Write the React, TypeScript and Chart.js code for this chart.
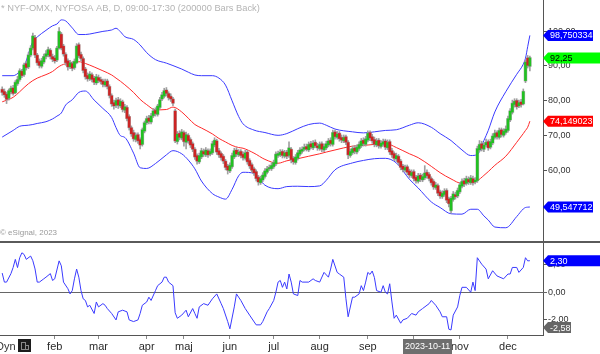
import React, { useEffect, useRef } from "react";
import { Chart, registerables } from "chart.js";
Chart.register(...registerables);

// ---------- price data (daily OHLC) ----------
const opens = [
  83.2, 82.6, 81.8, 80.8, 82.6, 83.6, 82.4, 85.0, 86.2, 88.4,
  87.6, 90.6, 89.8, 93.2, 95.2, 98.0, 93.0, 91.2, 90.0, 91.2,
  92.8, 93.2, 94.4, 92.6, 92.2, 91.8, 95.2, 99.0, 95.6, 93.2,
  91.4, 89.8, 90.6, 89.6, 91.0, 96.0, 93.2, 92.0, 89.0, 87.2,
  86.4, 87.4, 86.4, 85.2, 86.6, 86.0, 85.6, 84.6, 85.6, 84.0,
  81.4, 79.4, 78.8, 80.2, 78.6, 79.6, 77.4, 78.0, 75.4, 72.2,
  70.8, 69.0, 70.2, 68.8, 67.6, 71.4, 73.8, 75.0, 74.0, 75.8,
  77.2, 76.2, 78.2, 80.6, 81.4, 83.0, 82.0, 81.2, 80.4, 77.0,
  68.4, 70.6, 69.4, 70.8, 68.2, 70.0, 68.8, 67.6, 66.0, 64.2,
  62.6, 64.0, 65.4, 64.6, 65.6, 64.8, 65.2, 67.4, 68.4, 65.6,
  64.8, 64.0, 62.6, 61.2, 60.0, 61.2, 64.0, 65.8, 64.6, 65.4,
  64.6, 63.6, 65.2, 62.8, 61.6, 60.4, 59.6, 58.0, 56.6, 57.4,
  58.4, 59.6, 60.6, 60.6, 61.2, 62.0, 64.4, 64.6, 65.4, 64.2,
  65.2, 64.4, 66.0, 63.4, 62.4, 63.6, 64.8, 65.6, 66.2, 66.8,
  66.0, 67.6, 66.6, 68.0, 67.0, 66.4, 67.6, 66.0, 66.6, 67.4,
  68.6, 67.6, 71.0, 69.6, 70.6, 69.4, 68.6, 69.6, 68.0, 64.4,
  65.2, 66.4, 65.4, 66.4, 67.2, 68.6, 67.6, 68.8, 70.8, 69.6,
  68.8, 67.4, 68.6, 67.0, 67.6, 68.4, 66.6, 68.2, 65.6, 64.8,
  63.4, 64.0, 62.6, 61.2, 60.2, 61.0, 59.8, 58.6, 59.6, 58.0,
  57.0, 58.6, 57.4, 58.0, 59.4, 58.8, 57.6, 56.8, 55.2, 55.6,
  53.8, 52.6, 53.2, 54.2, 51.8, 48.6, 51.8, 53.0, 52.8, 54.0,
  55.6, 57.0, 56.4, 57.4, 56.6, 57.6, 56.8, 57.2, 66.0, 67.6,
  66.2, 67.4, 68.2, 66.8, 68.0, 69.6, 70.8, 69.6, 71.6, 70.2,
  71.0, 71.6, 74.6, 76.8, 79.0, 80.0, 78.6, 79.6, 79.2, 85.8,
  92.2, 90.0,
];
const highs = [
  84.0, 83.4, 82.4, 83.4, 84.2, 84.4, 85.8, 87.0, 89.2, 89.0,
  90.8, 91.4, 93.8, 95.8, 99.4, 98.8, 93.6, 92.0, 92.2, 93.4,
  94.4, 95.4, 95.0, 93.4, 93.0, 95.6, 101.0, 99.6, 96.2, 93.8,
  92.0, 91.6, 91.2, 92.0, 96.4, 96.6, 94.0, 92.6, 89.6, 88.0,
  88.4, 88.0, 87.0, 87.6, 87.4, 86.8, 86.2, 86.2, 86.2, 84.6,
  82.0, 80.2, 80.8, 81.0, 80.6, 80.2, 79.0, 78.6, 76.0, 72.8,
  71.6, 70.8, 70.8, 69.4, 72.2, 74.2, 75.6, 75.8, 76.4, 77.8,
  78.0, 79.0, 81.0, 82.4, 83.6, 83.8, 82.6, 82.0, 81.0, 77.6,
  71.2, 71.4, 71.8, 71.4, 71.0, 70.6, 69.4, 68.2, 66.6, 64.8,
  65.0, 66.4, 66.2, 66.6, 66.2, 66.2, 68.4, 69.4, 69.0, 66.4,
  65.4, 64.6, 63.2, 61.8, 62.2, 65.0, 66.4, 66.6, 66.0, 66.0,
  65.4, 65.8, 65.8, 63.4, 62.2, 61.0, 60.2, 58.6, 58.4, 59.4,
  60.6, 61.2, 61.6, 62.2, 63.0, 65.4, 65.6, 66.0, 66.0, 65.8,
  65.8, 68.2, 66.6, 64.0, 64.6, 65.8, 66.6, 66.8, 67.6, 67.6,
  68.2, 68.4, 68.6, 68.8, 67.8, 68.2, 68.2, 67.6, 68.4, 69.2,
  69.4, 71.6, 71.6, 71.2, 71.2, 70.2, 70.2, 70.2, 68.6, 66.2,
  67.0, 67.2, 67.4, 68.2, 69.2, 69.4, 69.8, 71.4, 71.4, 70.4,
  69.6, 69.2, 69.2, 68.6, 69.0, 69.0, 68.8, 68.8, 66.4, 65.4,
  65.0, 64.6, 63.2, 61.8, 61.6, 61.6, 60.4, 60.2, 60.2, 58.6,
  59.2, 59.2, 59.0, 61.4, 60.2, 59.4, 58.2, 57.4, 56.6, 56.2,
  54.4, 54.2, 54.8, 54.8, 52.4, 52.6, 54.0, 53.8, 55.0, 56.6,
  57.6, 57.8, 58.4, 58.2, 58.6, 58.4, 58.0, 67.0, 68.6, 68.4,
  68.0, 69.0, 68.8, 69.0, 70.6, 71.6, 71.4, 72.2, 72.2, 72.0,
  72.8, 75.6, 77.8, 80.2, 80.6, 80.6, 80.2, 80.4, 83.4, 91.6,
  93.0, 92.8,
];
const lows = [
  81.6, 81.0, 79.2, 80.2, 82.0, 81.6, 82.0, 84.4, 85.6, 86.6,
  87.0, 88.8, 89.2, 92.6, 94.6, 92.4, 90.2, 89.4, 89.4, 90.6,
  92.0, 92.6, 92.0, 91.2, 90.8, 91.2, 94.8, 94.6, 92.8, 90.2,
  88.8, 89.2, 88.6, 89.0, 90.6, 92.4, 91.4, 88.0, 86.2, 85.6,
  85.8, 85.4, 84.6, 84.6, 85.2, 84.8, 84.0, 84.0, 83.4, 80.8,
  78.4, 77.6, 78.0, 77.8, 78.0, 76.8, 76.6, 74.2, 71.6, 69.8,
  68.4, 68.2, 67.8, 66.2, 67.0, 70.8, 73.2, 73.4, 73.4, 75.2,
  75.6, 75.6, 77.6, 80.0, 80.8, 81.4, 80.2, 79.8, 78.6, 68.0,
  67.6, 68.8, 68.8, 67.0, 66.2, 67.8, 66.6, 65.4, 63.2, 61.8,
  62.0, 63.4, 64.0, 64.0, 63.8, 64.2, 64.6, 66.8, 64.6, 63.8,
  63.0, 62.0, 60.2, 59.0, 59.4, 60.6, 63.4, 64.0, 64.0, 63.6,
  63.0, 63.0, 61.8, 60.6, 59.4, 58.6, 57.0, 55.8, 56.0, 56.8,
  57.8, 59.0, 60.0, 60.0, 60.6, 61.4, 63.8, 64.0, 63.6, 63.6,
  63.4, 63.8, 62.2, 61.8, 61.8, 63.0, 64.2, 65.0, 65.6, 65.6,
  65.4, 66.2, 66.0, 66.6, 65.8, 65.8, 65.4, 65.4, 66.0, 66.8,
  67.0, 67.0, 69.0, 69.0, 68.4, 68.0, 68.0, 67.4, 63.4, 63.8,
  64.6, 64.8, 64.8, 65.8, 66.6, 67.0, 67.0, 68.2, 68.6, 67.8,
  66.8, 66.8, 66.4, 66.4, 67.0, 66.0, 66.0, 64.6, 63.8, 62.8,
  62.6, 61.6, 60.2, 59.6, 59.6, 58.8, 58.0, 58.0, 57.0, 56.4,
  56.4, 56.8, 56.8, 57.4, 57.8, 57.0, 55.8, 54.6, 54.6, 52.8,
  52.0, 52.0, 52.6, 50.8, 49.6, 47.8, 51.2, 51.8, 52.2, 53.4,
  55.0, 55.4, 55.8, 56.0, 56.0, 55.8, 56.2, 56.6, 65.4, 65.6,
  65.4, 66.8, 65.8, 66.2, 67.4, 69.0, 69.0, 69.0, 69.6, 69.6,
  70.4, 71.0, 74.0, 76.2, 78.2, 77.6, 78.0, 78.2, 78.8, 85.2,
  89.4, 88.6,
];
const closes = [
  82.5, 81.8, 80.5, 82.8, 83.5, 82.2, 85.2, 86.0, 88.5, 87.3,
  90.2, 89.6, 93.0, 95.0, 98.5, 93.2, 91.0, 90.2, 91.4, 92.6,
  93.4, 94.6, 92.8, 92.0, 91.5, 95.0, 99.8, 95.2, 93.5, 91.0,
  89.8, 90.8, 89.4, 91.2, 95.6, 93.0, 92.2, 88.8, 87.0, 86.4,
  87.6, 86.2, 85.4, 86.8, 85.9, 85.6, 84.8, 85.4, 84.2, 81.6,
  79.2, 78.6, 80.0, 78.8, 79.8, 77.6, 78.2, 75.0, 72.4, 70.6,
  69.2, 70.0, 68.6, 67.4, 71.6, 73.6, 74.8, 74.2, 75.6, 77.0,
  76.4, 78.4, 80.2, 81.6, 82.8, 82.2, 81.0, 80.6, 79.4, 68.6,
  70.4, 69.6, 71.0, 68.4, 70.2, 68.6, 67.4, 66.2, 64.0, 62.8,
  64.2, 65.6, 64.8, 65.8, 64.6, 65.4, 67.6, 68.6, 65.4, 64.6,
  63.8, 62.8, 61.0, 60.2, 61.4, 64.2, 65.6, 64.8, 65.2, 64.4,
  63.8, 65.0, 62.6, 61.4, 60.2, 59.4, 57.8, 56.8, 57.6, 58.6,
  59.8, 60.4, 60.8, 61.4, 62.2, 64.6, 64.8, 65.2, 64.4, 65.0,
  64.2, 66.4, 63.2, 62.6, 63.8, 65.0, 65.8, 66.0, 66.6, 66.2,
  67.4, 66.8, 67.8, 67.2, 66.6, 67.4, 66.2, 66.8, 67.6, 68.4,
  67.8, 70.8, 69.8, 70.4, 69.2, 68.8, 69.4, 68.2, 64.6, 65.4,
  66.2, 65.6, 66.6, 67.4, 68.4, 67.8, 69.0, 70.6, 69.4, 68.6,
  67.6, 68.4, 67.2, 67.8, 68.2, 66.8, 68.0, 65.4, 64.6, 63.6,
  64.2, 62.4, 61.0, 60.4, 60.8, 59.6, 58.8, 59.4, 57.8, 57.2,
  58.4, 57.6, 58.2, 59.2, 58.6, 57.8, 56.6, 55.4, 55.8, 53.6,
  52.8, 53.4, 54.0, 51.6, 50.6, 52.0, 53.2, 52.6, 54.2, 55.8,
  56.8, 56.2, 57.6, 56.8, 57.8, 56.6, 57.2, 66.2, 67.4, 66.4,
  67.2, 68.0, 66.6, 68.2, 69.8, 70.6, 69.8, 71.4, 70.4, 71.2,
  71.8, 74.8, 77.0, 79.2, 79.8, 78.4, 79.4, 79.0, 82.6, 91.0,
  90.2, 92.25,
];

// ---------- Bollinger bands (read at these bar indices) ----------
const bandIdx = [
  0, 5, 8, 10, 12, 14, 16, 20, 23, 25, 27, 29, 32, 35, 38, 42, 46, 50, 52, 54,
  56, 60, 63, 66, 70, 75, 78, 82, 85, 88, 91, 96, 99, 102, 105, 108, 110, 115, 120, 126,
  130, 135, 140, 145, 148, 152, 160, 165, 170, 175, 180, 186, 190, 196, 200, 205, 210, 214, 217, 220,
  222, 225, 230, 235, 238, 239, 240, 241,
];
const upperBand = [
  87.2, 87.2, 88.3, 89.6, 93.5, 97.0, 98.3, 100.2, 101.5, 102.0, 103.2, 102.9, 100.9, 99.0, 99.0, 99.4, 99.9, 100.3, 100.8, 99.8,
  98.4, 97.6, 96.0, 93.8, 91.8, 90.8, 90.1, 89.1, 88.2, 87.4, 87.2, 87.2, 86.5, 84.5, 80.0, 75.5, 73.4, 71.6, 70.9, 70.1,
  70.6, 72.0, 73.2, 73.6, 73.0, 71.9, 71.1, 70.8, 71.1, 71.5, 71.7, 73.0, 73.7, 72.4, 70.6, 68.6, 65.9, 64.3, 64.6, 68.6,
  71.5, 76.8, 82.6, 87.6, 90.5, 92.2, 95.5, 98.750334,
];
const midBand = [
  79.7, 81.0, 82.6, 83.8, 84.9, 85.8, 86.5, 87.5, 88.4, 89.4, 90.2, 90.6, 91.0, 91.2, 90.7, 89.7, 88.6, 87.4, 86.5, 85.6,
  84.6, 82.4, 80.4, 78.9, 77.4, 77.5, 78.2, 76.8, 75.0, 73.2, 72.2, 70.5, 69.2, 68.2, 67.2, 66.6, 66.4, 65.0, 63.2, 62.1,
  62.8, 63.4, 64.1, 64.8, 65.3, 65.9, 67.0, 67.2, 67.5, 67.8, 66.6, 64.8, 63.7, 61.2, 59.4, 57.6, 56.3, 56.7, 57.1, 58.6,
  59.7, 61.5, 64.1, 68.1, 70.6, 71.5, 72.4, 74.149023,
];
const lowerBand = [
  69.6, 71.5, 72.7, 72.9, 73.0, 73.2, 73.5, 74.0, 74.8, 75.6, 76.5, 78.8, 80.3, 82.4, 82.8, 80.2, 77.8, 75.2, 72.3, 70.0,
  69.5, 65.0, 60.8, 60.6, 62.0, 64.5, 65.7, 64.8, 63.0, 60.5, 57.0, 53.4, 52.4, 51.8, 54.6, 58.5, 59.5, 59.2, 55.8, 54.8,
  55.4, 55.5, 55.4, 55.6, 57.2, 60.2, 62.2, 62.9, 63.4, 63.5, 62.2, 57.5, 55.0, 51.0, 49.4, 47.6, 47.5, 48.9, 48.9, 47.0,
  45.8, 43.8, 43.6, 46.8, 49.0, 49.4, 49.5, 49.547712,
];

// ---------- oscillator (lower panel) ----------
const oscIdx = [
  0, 1, 2, 4, 5, 6, 7, 8, 9, 10, 11, 13, 14, 15, 16, 17, 19, 20, 22, 23,
  24, 26, 27, 28, 30, 31, 32, 33, 34, 35, 36, 37, 38, 39, 40, 42, 43, 44, 46, 47,
  48, 50, 52, 53, 55, 57, 58, 60, 62, 63, 64, 66, 67, 68, 70, 71, 73, 74, 75, 76,
  78, 79, 80, 82, 84, 85, 87, 88, 89, 90, 92, 94, 95, 96, 98, 100, 101, 103, 104, 106,
  107, 109, 111, 113, 116, 118, 119, 121, 122, 124, 125, 126, 127, 128, 129, 130, 131, 132, 133, 135,
  136, 137, 140, 142, 143, 145, 147, 149, 150, 151, 153, 154, 156, 157, 158, 160, 161, 163, 164, 165,
  166, 167, 168, 169, 170, 171, 173, 174, 175, 176, 177, 178, 179, 180, 182, 183, 185, 187, 189, 190,
  192, 195, 196, 198, 200, 201, 203, 204, 205, 206, 208, 209, 210, 212, 214, 215, 216, 217, 219, 221,
  222, 224, 226, 229, 231, 232, 233, 235, 236, 238, 239, 240, 241,
];
const oscVals = [
  1.4, 0.74, 0.74, 1.36, 1.81, 2.4, 1.8, 2.52, 2.88, 2.76, 2.4, 2.64, 2.3, 1.7, 0.74, 0.74, 0.98, 1.1, 1.36, 0.86,
  0.98, 2.29, 1.93, 0.74, 0.26, -0.12, 0.12, 0.98, 1.69, 1.1, 0.12, -0.48, -0.6, -1.07, -0.95, -1.55, -0.71, -1.07, -0.83, -0.95,
  -1.19, -1.55, -2.02, -1.43, -1.31, -1.43, -2.02, -2.14, -2.02, -1.55, -0.95, -0.71, -0.36, -0.6, 0.12, 0.48, 0.74, 1.1, 1.1, 0.74,
  0.48, -1.5, -1.9, -1.67, -1.31, -1.79, -1.19, -1.55, -1.9, -1.07, -0.83, -0.95, -0.71, -0.48, -0.12, -0.83, -1.19, -2.14, -2.67, -1.07,
  -0.12, -0.6, -1.19, -1.67, -2.38, -2.38, -2.14, -1.43, -1.19, -0.6, 0.0, 0.74, 0.86, 0.36, 0.74, 0.24, 1.33, 0.74, -0.12, -0.24,
  0.86, 0.74, 0.74, 0.98, 0.86, 0.74, 1.45, 1.1, 1.69, 2.4, 1.45, 1.33, 1.1, -0.48, -1.79, -0.36, -0.36, -0.12, 0.48, 0.12,
  0.74, 1.45, 1.3, 1.55, 1.07, 0.12, 0.0, 0.48, 0.0, -0.12, 0.62, -0.71, -1.9, -1.67, -2.26, -2.02, -1.9, -1.55, -1.67, -1.43,
  -1.19, -0.83, -0.6, -0.95, -1.43, -1.79, -1.79, -2.7, -2.75, -1.67, -1.07, -0.24, 0.36, 0.36, 0.0, 0.74, 0.12, 2.52, 2.05, 1.69,
  0.98, 1.57, 1.19, 0.98, 1.33, 1.33, 1.81, 1.81, 1.45, 1.81, 2.52, 2.29, 2.3,
];
const oscMarker = -2.58;

// ---------- axes ----------
const monthIdx = [24, 44, 66, 83, 104, 124, 145, 167, 188, 209, 231];
const monthLabels = ["feb", "mar", "apr", "maj", "jun", "jul", "aug", "sep", "okt", "nov", "dec"];
const priceTicks = [60, 70, 80, 90, 100];
const oscTicks = [-2, 0, 2];

const TITLE = "* NYF-OMX, NYFOSA AB, D, 09:00-17:30 (200000 Bars Back)";
const COPY = "\u00a9 eSignal, 2023";
const DATE_LABEL = "2023-10-11";
const FONT = "Arial, 'Liberation Sans', Helvetica, sans-serif";
const AXIS_W = 57;

const fmt = (v: number, d = 2) => v.toFixed(d).replace(".", ",");

function drawTag(ctx: CanvasRenderingContext2D, x0: number, y: number, right: number, text: string, bg: string, fg: string) {
  ctx.save();
  ctx.fillStyle = bg;
  ctx.beginPath();
  ctx.moveTo(x0, y);
  ctx.lineTo(x0 + 5, y - 5.5);
  ctx.lineTo(right, y - 5.5);
  ctx.lineTo(right, y + 5.5);
  ctx.lineTo(x0 + 5, y + 5.5);
  ctx.closePath();
  ctx.fill();
  ctx.fillStyle = fg;
  ctx.font = `9px ${FONT}`;
  ctx.textAlign = "left";
  ctx.textBaseline = "middle";
  ctx.fillText(text, x0 + 7, y + 0.5);
  ctx.restore();
}

export default function App() {
  const topRef = useRef<HTMLCanvasElement>(null);
  const botRef = useRef<HTMLCanvasElement>(null);

  useEffect(() => {
    const n = Math.min(opens.length, highs.length, lows.length, closes.length);
    const idx = Array.from({ length: n }, (_, i) => i);
    const isUp = idx.map((i) => closes[i] >= opens[i]);
    const last = n - 1;
    const bodyLo = idx.map((i) => Math.min(opens[i], closes[i]));
    const bodyHi = idx.map((i) => Math.max(opens[i], closes[i]));

    const yAfterFit = (s: any) => {
      s.width = AXIS_W;
      s.paddingTop = 0;
      s.paddingBottom = 0;
    };

    const topPlugin = {
      id: "topDecor",
      afterDraw(chart: any) {
        const { ctx } = chart;
        const ys = chart.scales.y;
        const x0 = chart.chartArea.right;
        ctx.save();
        ctx.font = `9.3px ${FONT}`;
        ctx.textBaseline = "middle";
        ctx.textAlign = "left";
        ctx.fillStyle = "#b4b4b4";
        ctx.fillText(TITLE, 1, 8);
        ctx.font = `8px ${FONT}`;
        ctx.fillStyle = "#9a9a9a";
        ctx.fillText(COPY, 0, 233);
        ctx.restore();
        const ku = upperBand.length - 1;
        drawTag(ctx, x0, ys.getPixelForValue(upperBand[ku]), 593, fmt(upperBand[ku], 6), "#0000ff", "#ffffff");
        drawTag(ctx, x0, ys.getPixelForValue(closes[last]), 600, fmt(closes[last], 2), "#00ff00", "#000000");
        drawTag(ctx, x0, ys.getPixelForValue(midBand[ku]), 593, fmt(midBand[ku], 6), "#ff0000", "#ffffff");
        drawTag(ctx, x0, ys.getPixelForValue(lowerBand[ku]), 593, fmt(lowerBand[ku], 6), "#0000ff", "#ffffff");
      },
    };

    const botPlugin = {
      id: "botDecor",
      beforeDatasetsDraw(chart: any) {
        const { ctx } = chart;
        const y0 = Math.round(chart.scales.y.getPixelForValue(0)) + 0.5;
        ctx.save();
        ctx.strokeStyle = "#666666";
        ctx.lineWidth = 1;
        ctx.beginPath();
        ctx.moveTo(0, y0);
        ctx.lineTo(chart.chartArea.right + 4, y0);
        ctx.stroke();
        ctx.restore();
      },
      afterDraw(chart: any) {
        const { ctx } = chart;
        const ys = chart.scales.y;
        const x0 = chart.chartArea.right;
        ctx.save();
        ctx.fillStyle = "#5a5a5a";
        ctx.fillRect(0, 0, 600, 2);
        ctx.font = `11px ${FONT}`;
        ctx.textBaseline = "middle";
        ctx.textAlign = "left";
        ctx.fillStyle = "#333333";
        ctx.fillText("Dyn", -4, 106);
        ctx.fillStyle = "#1c1c1c";
        ctx.fillRect(18, 98, 13, 13);
        ctx.strokeStyle = "#8a8a8a";
        ctx.lineWidth = 1;
        ctx.strokeRect(21.5, 101.5, 4, 7);
        ctx.strokeRect(25.5, 104.5, 3, 4);
        ctx.fillStyle = "#6e6e6e";
        ctx.fillRect(403, 98, 49, 15);
        ctx.fillStyle = "#ffffff";
        ctx.font = `9px ${FONT}`;
        ctx.fillText(DATE_LABEL, 405, 106);
        ctx.restore();
        drawTag(ctx, x0, ys.getPixelForValue(oscVals[oscVals.length - 1]), 600, fmt(oscVals[oscVals.length - 1], 2), "#0000ff", "#ffffff");
        drawTag(ctx, x0, ys.getPixelForValue(oscMarker), 571, fmt(oscMarker, 2), "#666666", "#ffffff");
      },
    };

    const lineDs = (vals: number[], color: string) =>
      ({
        type: "line",
        data: bandIdx.map((x, k) => ({ x, y: vals[k] })),
        borderColor: color,
        borderWidth: 1,
        pointRadius: 0,
        cubicInterpolationMode: "monotone",
        order: 5,
      } as any);

    const top = new Chart(topRef.current!, {
      type: "bar",
      data: {
        datasets: [
          lineDs(upperBand, "#3a3aff"),
          lineDs(midBand, "#ff2a2a"),
          lineDs(lowerBand, "#3a3aff"),
          {
            type: "bar",
            data: idx.map((i) => ({ x: i, y: [lows[i], highs[i]] })),
            backgroundColor: "#a0a0a0",
            barThickness: 1,
            grouped: false,
            order: 3,
          } as any,
          {
            type: "bar",
            data: idx.map((i) => ({ x: i, y: [bodyLo[i] - 0.15, bodyHi[i] + 0.15] })),
            backgroundColor: "rgba(130,130,130,0.55)",
            barThickness: 3,
            grouped: false,
            order: 2,
          } as any,
          {
            type: "bar",
            data: idx.map((i) => ({ x: i, y: [bodyLo[i], bodyHi[i]] })),
            backgroundColor: isUp.map((u) => (u ? "#22c022" : "#cc2424")),
            barThickness: 2,
            grouped: false,
            order: 1,
          } as any,
        ],
      },
      options: {
        responsive: false,
        animation: false,
        events: [],
        devicePixelRatio: 1,
        layout: { padding: 0 },
        plugins: { legend: { display: false }, tooltip: { enabled: false }, title: { display: false } },
        scales: {
          x: { type: "linear", min: -1, max: 247, display: false, offset: false },
          y: {
            type: "linear",
            position: "right",
            min: 39.8,
            max: 108.9,
            afterFit: yAfterFit,
            afterBuildTicks: (s: any) => {
              s.ticks = priceTicks.map((v) => ({ value: v }));
            },
            ticks: {
              callback: (v: any) => fmt(Number(v), 2),
              font: { family: FONT, size: 9 },
              color: "#333333",
              padding: 1,
            },
            grid: { drawOnChartArea: false, tickLength: 4, color: "#555555" },
            border: { color: "#555555" },
          },
        },
      } as any,
      plugins: [topPlugin],
    });

    const bot = new Chart(botRef.current!, {
      type: "line",
      data: {
        datasets: [
          {
            data: oscIdx.map((x, k) => ({ x, y: oscVals[k] })),
            borderColor: "#3a3aff",
            borderWidth: 1,
            pointRadius: 0,
            tension: 0,
          },
        ],
      },
      options: {
        responsive: false,
        animation: false,
        events: [],
        devicePixelRatio: 1,
        layout: { padding: 0 },
        plugins: { legend: { display: false }, tooltip: { enabled: false } },
        scales: {
          x: {
            type: "linear",
            min: -1,
            max: 247,
            offset: false,
            afterBuildTicks: (s: any) => {
              s.ticks = monthIdx.map((v) => ({ value: v }));
            },
            afterFit: (s: any) => {
              s.height = 19;
              s.paddingLeft = 0;
              s.paddingRight = 0;
            },
            ticks: {
              autoSkip: false,
              maxRotation: 0,
              callback: (_v: any, i: number) => monthLabels[i],
              font: { family: FONT, size: 11 },
              color: "#2a2a2a",
              padding: 1,
            },
            grid: { drawOnChartArea: false, tickLength: 4, color: "#8a8a8a" },
            border: { color: "#555555" },
          },
          y: {
            type: "linear",
            position: "right",
            min: -3.12,
            max: 3.74,
            afterFit: yAfterFit,
            afterBuildTicks: (s: any) => {
              s.ticks = oscTicks.map((v) => ({ value: v }));
            },
            ticks: {
              callback: (v: any) => fmt(Number(v), 2),
              font: { family: FONT, size: 9 },
              color: "#333333",
              padding: 1,
            },
            grid: { drawOnChartArea: false, tickLength: 4, color: "#555555" },
            border: { color: "#555555" },
          },
        },
      } as any,
      plugins: [botPlugin],
    });

    return () => {
      top.destroy();
      bot.destroy();
    };
  }, []);

  return (
    <div style={{ position: "absolute", left: 0, top: 0, width: 600, height: 354, background: "#ffffff", overflow: "hidden" }}>
      <canvas ref={topRef} width={600} height={241} style={{ position: "absolute", left: 0, top: 0, width: 600, height: 241 }} />
      <canvas ref={botRef} width={600} height={113} style={{ position: "absolute", left: 0, top: 241, width: 600, height: 113 }} />
    </div>
  );
}
